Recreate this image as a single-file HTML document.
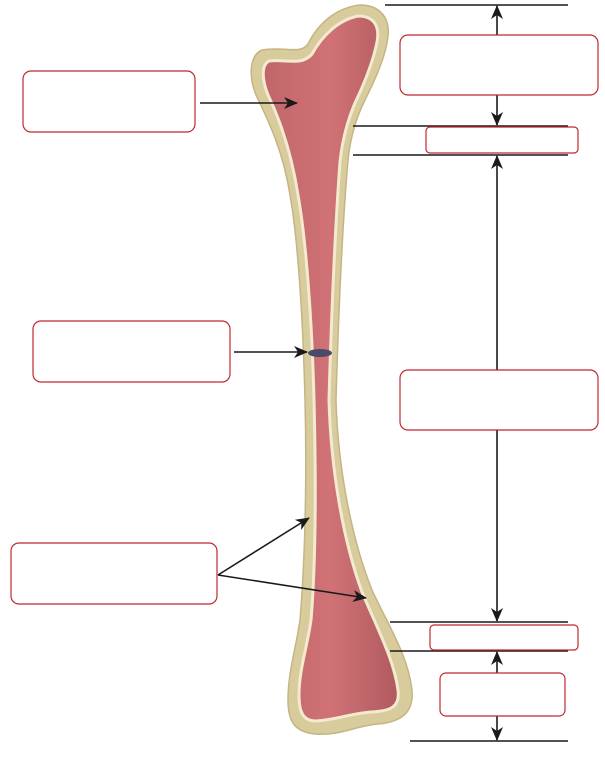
<!DOCTYPE html>
<html><head><style>html,body{margin:0;padding:0;background:#fff}svg{display:block}</style></head>
<body>
<svg width="605" height="757" viewBox="0 0 605 757" xmlns="http://www.w3.org/2000/svg">
<defs>
<marker id="a" markerWidth="14" markerHeight="12" refX="13" refY="6" orient="auto" markerUnits="userSpaceOnUse" viewBox="0 0 14 12">
<path d="M0,0 L14,6 L0,12 L4,6 z" fill="#1a1a1a"/></marker>
<linearGradient id="r" x1="0" x2="1"><stop offset="0" stop-color="#c0666a"/><stop offset="0.5" stop-color="#d07276"/><stop offset="1" stop-color="#b05a5e"/></linearGradient>
</defs>
<path d="M262,50 C285,46 300,55 308,44 C318,24 335,8 360,5 C380,5 390,18 388,36 C386,56 375,80 365,100 C355,120 350,140 348,160 C342,230 338,330 336,400 C338,470 352,540 372,590 C388,625 408,655 412,690 C414,712 402,722 378,724 C355,726 340,736 315,734 C295,732 288,722 288,700 C288,672 296,648 300,620 C305,560 307,480 305,400 C303,320 298,240 290,195 C283,150 268,120 256,95 C248,75 250,55 262,50 Z" fill="#d8cb9c" stroke="#c4b584" stroke-width="1.5"/>
<path d="M269,61 C287,59 302,66 312,54 C322,36 338,20 358,16 C374,16 380,26 377,42 C373,62 365,82 355,103 C347,122 342,142 340,162 C335,230 331,330 329,400 C331,470 343,540 362,592 C378,630 394,660 398,690 C400,706 392,711 372,712 C352,713 336,720 316,721 C303,721 299,712 299,695 C299,670 307,648 311,620 C316,560 316,480 314,400 C312,320 306,240 298,195 C291,150 279,118 268,95 C262,80 261,65 269,61 Z" fill="url(#r)" stroke="#f3ead0" stroke-width="3"/>
<ellipse cx="320" cy="353" rx="12" ry="4" fill="#4a4a6a"/>
<g stroke="#1a1a1a" stroke-width="1.6" fill="none">
<line x1="385" y1="5" x2="568" y2="5"/>
<line x1="353" y1="126" x2="568" y2="126"/>
<line x1="353" y1="155" x2="568" y2="155"/>
<line x1="390" y1="622" x2="568" y2="622"/>
<line x1="390" y1="651" x2="568" y2="651"/>
<line x1="410" y1="741" x2="568" y2="741"/>
<line x1="497" y1="35" x2="497" y2="6" marker-end="url(#a)"/>
<line x1="497" y1="95" x2="497" y2="125" marker-end="url(#a)"/>
<line x1="497" y1="370" x2="497" y2="156" marker-end="url(#a)"/>
<line x1="497" y1="430" x2="497" y2="621" marker-end="url(#a)"/>
<line x1="497" y1="673" x2="497" y2="652" marker-end="url(#a)"/>
<line x1="497" y1="716" x2="497" y2="740" marker-end="url(#a)"/>
<line x1="200" y1="103" x2="297" y2="103" marker-end="url(#a)"/>
<line x1="234" y1="352" x2="307" y2="352" marker-end="url(#a)"/>
<line x1="218" y1="575" x2="309" y2="518" marker-end="url(#a)"/>
<line x1="218" y1="575" x2="366" y2="598" marker-end="url(#a)"/>
</g>
<g fill="#fff" stroke="#c0282e" stroke-width="1.2">
<rect x="400" y="35" width="198" height="60" rx="8"/>
<rect x="426" y="127" width="152" height="26" rx="4"/>
<rect x="400" y="370" width="198" height="60" rx="8"/>
<rect x="430" y="625" width="148" height="25" rx="4"/>
<rect x="440" y="673" width="125" height="43" rx="6"/>
<rect x="23" y="71" width="172" height="61" rx="8"/>
<rect x="33" y="321" width="197" height="61" rx="8"/>
<rect x="11" y="543" width="206" height="61" rx="8"/>
</g>
</svg>
</body></html>
